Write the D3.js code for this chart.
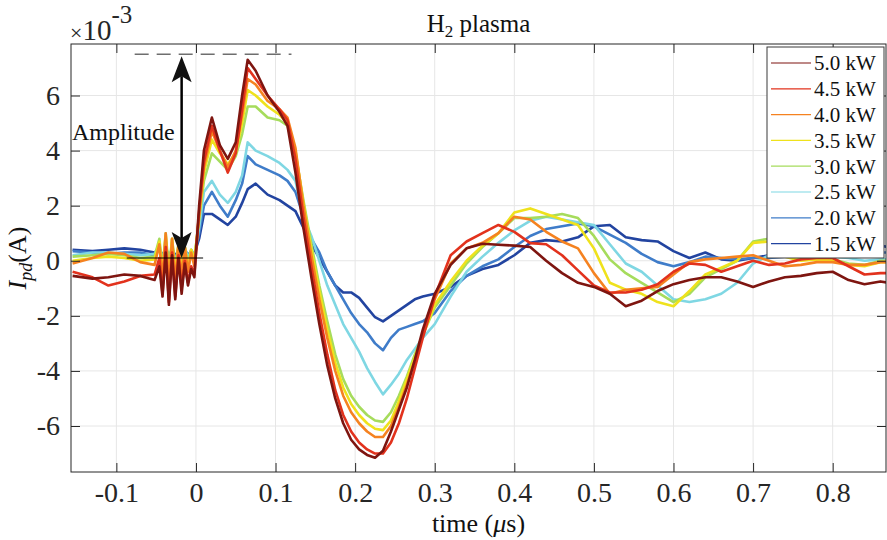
<!DOCTYPE html>
<html lang="en">
<head>
<meta charset="UTF-8">
<title>H2 plasma</title>
<script src="https://d3js.org/d3.v7.min.js"></script>
<style>
  body { margin: 0; background: #fff; }
  svg { display: block; }
  svg text { font-family: "Liberation Serif", "Times New Roman", serif; }
  .tick text { fill: #262626; }
</style>
</head>
<body>
<svg id="chart" width="887" height="540"></svg>
<script>
// time axis (µs), shared by all traces
const times = [
  -0.155, -0.13, -0.11, -0.09, -0.07, -0.052,
  -0.046, -0.042, -0.038, -0.034, -0.030, -0.026, -0.022, -0.018, -0.014, -0.010, -0.006, -0.002,
  0.004, 0.010, 0.020, 0.030, 0.040, 0.050, 0.058, 0.065, 0.075, 0.090, 0.105,
  0.115, 0.125, 0.135, 0.145, 0.155, 0.165, 0.175, 0.185, 0.195, 0.205, 0.215, 0.225, 0.235, 0.245, 0.255, 0.265, 0.275, 0.285, 0.300,
  0.32, 0.34, 0.36, 0.38, 0.40, 0.42, 0.44, 0.46, 0.48, 0.50, 0.52, 0.54, 0.56, 0.58, 0.60, 0.62, 0.64, 0.66, 0.68, 0.70, 0.72, 0.74, 0.76, 0.78, 0.80, 0.82, 0.84, 0.86, 0.87
];

// I_pd in units of 1e-3 A
const kw50 = [
  -0.55, -0.65, -0.6, -0.5, -0.55, -0.7,
  -0.2, -1.3, 0.3, -1.6, 0.2, -1.4, 0.1, -1.2, -0.1, -0.9, -0.3, -0.6,
  2.0, 4.0, 5.2, 4.2, 3.7, 4.3, 6.0, 7.3, 6.9, 6.0, 5.4,
  4.9, 3.2, 1.2, -0.6, -2.3, -3.8, -5.0, -5.9, -6.5, -6.85, -7.05, -7.15, -6.9, -6.2, -5.4, -4.6, -3.6, -2.5, -1.2,
  -0.15, 0.45, 0.62, 0.58, 0.55, 0.5, 0.0, -0.45, -0.8, -0.95, -1.2, -1.65, -1.45, -1.1, -0.85, -0.7, -0.6, -0.6, -0.75, -0.95, -0.75, -0.6, -0.55, -0.45, -0.4, -0.7, -0.85, -0.75, -0.8
];
const kw45 = [
  -0.4, -0.6, -0.9, -0.75, -0.55, -0.5,
  0.1, -1.2, 0.5, -1.5, 0.3, -1.3, 0.2, -1.0, 0.0, -0.8, -0.2, -0.5,
  1.8, 3.6, 4.9, 4.0, 3.2, 3.9, 5.5, 7.0, 6.6, 6.0, 5.5,
  5.1, 3.7, 1.6, -0.2, -1.9, -3.4, -4.7, -5.6, -6.2, -6.6, -6.85, -7.0, -7.0, -6.6, -5.9, -5.0, -3.9, -2.8, -1.3,
  0.2, 0.7, 1.0, 1.3, 1.05, 0.64, 0.6, 0.2, -0.35, -0.9, -1.15, -1.15, -1.05, -0.85, -0.4, -0.1, -0.15, -0.4, -0.2, 0.0, -0.15, -0.1, 0.05, 0.1, 0.1, -0.2, -0.5, -0.45, -0.45
];
const kw40 = [
  -0.1, 0.1, 0.3, 0.25, -0.05, -0.15,
  0.6, -0.7, 1.0, -0.9, 0.8, -0.8, 0.6, -0.6, 0.5, -0.4, 0.3, -0.2,
  1.7, 3.4, 4.7, 4.0, 3.4, 4.0, 5.3, 6.6, 6.4, 5.8, 5.5,
  5.2, 4.1, 2.0, 0.2, -1.4, -2.8, -4.0, -4.9, -5.5, -5.9, -6.2, -6.4, -6.4, -6.0, -5.3, -4.5, -3.6, -2.7, -1.4,
  -0.1, 0.45, 0.65, 1.0, 1.6, 1.5, 1.05, 0.7, 0.45, -0.45, -1.2, -1.05, -1.0, -0.95, -0.5, -0.05, 0.05, 0.1, 0.15, 0.2, 0.0, -0.2, -0.15, -0.05, -0.05, -0.15, -0.15, -0.05, -0.05
];
const kw35 = [
  0.0, 0.1, 0.15, 0.1, 0.0, 0.05,
  0.7, -0.5, 0.9, -0.6, 0.8, -0.5, 0.6, -0.4, 0.5, -0.3, 0.4, 0.0,
  1.6, 3.2, 4.4, 3.9, 3.5, 3.9, 5.0, 6.2, 6.0, 5.6, 5.3,
  5.0, 4.0, 2.1, 0.4, -1.1, -2.5, -3.7, -4.6, -5.2, -5.6, -5.9, -6.1, -6.15, -5.8, -5.1, -4.3, -3.5, -2.7, -1.6,
  -0.75, 0.0, 0.55, 1.0, 1.75, 1.9, 1.7, 1.5, 1.3, 0.45, -0.8, -1.05, -1.2, -1.5, -1.65, -1.1, -0.5, -0.25, 0.0, 0.65, 0.7, 0.15, 0.0, 0.05, 0.0, -0.15, -0.2, -0.05, -0.05
];
const kw30 = [
  0.15, 0.2, 0.25, 0.2, 0.1, 0.15,
  0.8, -0.3, 1.0, -0.4, 0.8, -0.3, 0.6, -0.2, 0.5, -0.1, 0.4, 0.1,
  1.5, 2.9, 3.9, 3.6, 3.3, 3.8, 4.6, 5.6, 5.6, 5.2, 5.1,
  4.9, 3.9, 2.2, 0.6, -0.9, -2.2, -3.4, -4.3, -4.9, -5.3, -5.6, -5.8, -5.85, -5.5, -4.9, -4.2, -3.4, -2.7, -1.7,
  -0.9, -0.1, 0.5, 1.0, 1.55, 1.55, 1.6, 1.7, 1.55, 0.9, 0.05, -0.45, -0.8, -1.15, -1.5, -1.2, -0.6, -0.3, 0.0, 0.7, 0.8, 0.3, 0.05, 0.1, 0.05, -0.1, -0.15, 0.0, 0.0
];
const kw25 = [
  0.2, 0.3, 0.3, 0.25, 0.2, 0.25,
  0.6, -0.1, 0.7, -0.2, 0.6, -0.1, 0.5, 0.0, 0.5, 0.1, 0.4, 0.2,
  1.2, 2.5, 2.9, 2.4, 2.1, 2.5, 3.1, 4.3, 4.0, 3.8, 3.55,
  3.3, 2.9, 1.6, 0.9, 0.0, -0.9, -1.6, -2.3, -2.8, -3.3, -3.9, -4.4, -4.85, -4.5, -4.1, -3.6, -3.2, -2.8, -2.3,
  -1.3, -0.4, 0.15, 0.65, 1.1, 1.45, 1.6, 1.5, 1.4, 1.3, 0.6, -0.1, -0.4, -0.9, -1.4, -1.5, -1.4, -1.2, -0.8, -0.1, 0.2, 0.3, 0.2, 0.1, 0.15, 0.1, 0.0, 0.05, 0.05
];
const kw20 = [
  0.35, 0.3, 0.25, 0.3, 0.3, 0.2,
  0.5, 0.0, 0.6, -0.1, 0.5, 0.0, 0.4, 0.1, 0.4, 0.1, 0.3, 0.2,
  1.0, 2.0, 2.5, 2.0, 1.6, 2.2, 2.8, 3.8, 3.5, 3.3, 3.1,
  2.9, 2.5, 1.6, 0.8, 0.3, -0.4, -0.9, -1.4, -1.9, -2.3, -2.6, -3.0, -3.25, -2.8, -2.5, -2.4, -2.3, -2.2, -1.9,
  -1.1, -0.55, -0.2, 0.05, 0.5, 0.9, 1.15, 1.25, 1.35, 1.25, 0.95, 0.65, 0.25, -0.05, -0.2, -0.05, 0.15, 0.1, 0.05, 0.1, 0.1, 0.15, 0.2, 0.15, 0.2, 0.15, 0.2, 0.3, 0.3
];
const kw15 = [
  0.4, 0.35, 0.4, 0.45, 0.4, 0.3,
  0.45, 0.15, 0.5, 0.1, 0.45, 0.15, 0.4, 0.2, 0.4, 0.2, 0.35, 0.25,
  0.8, 1.7, 1.7, 1.5, 1.3, 1.6, 2.1, 2.6, 2.8, 2.4, 2.2,
  2.0, 1.8, 1.2, 0.6, 0.1, -0.4, -0.9, -1.15, -1.15, -1.35, -1.7, -2.05, -2.2, -2.0, -1.8, -1.6, -1.4, -1.3, -1.2,
  -0.95, -0.55, -0.3, -0.15, 0.2, 0.65, 0.75, 0.7, 0.85, 1.25, 1.3, 0.85, 0.75, 0.7, 0.35, 0.1, 0.3, 0.05, 0.0, 0.1, 0.2, 0.25, 0.3, 0.35, 0.4, 0.45, 0.5, 0.55, 0.5
];

const labels = ["5.0 kW", "4.5 kW", "4.0 kW", "3.5 kW", "3.0 kW", "2.5 kW", "2.0 kW", "1.5 kW"];
const colors = ["#7e1510", "#e2321d", "#f58220", "#efe21c", "#a6dc5c", "#7fd7e3", "#3f7cc9", "#2244a0"];
const xTicks = [-0.1, 0, 0.1, 0.2, 0.3, 0.4, 0.5, 0.6, 0.7, 0.8];
const yTicks = [-6, -4, -2, 0, 2, 4, 6];

// amplitude annotation (data units)
const ampTop = 7.5, ampBase = 0.1, ampX = -0.018;

const series = [kw50, kw45, kw40, kw35, kw30, kw25, kw20, kw15].map((vals, i) => ({
  label: labels[i],
  color: colors[i],
  points: vals.map((v, j) => [times[j], v])
}));

const serif = '"Liberation Serif", "Times New Roman", serif';
const svg = d3.select("#chart");
const box = {left: 71, right: 886, top: 44, bottom: 472};

const x = d3.scaleLinear().domain([-0.157, 0.867]).range([box.left, box.right]);
const y = d3.scaleLinear().domain([-7.67, 7.87]).range([box.bottom, box.top]);

// grid
svg.append("g").selectAll("line").data(xTicks).join("line")
  .attr("x1", d => x(d)).attr("x2", d => x(d))
  .attr("y1", box.top).attr("y2", box.bottom)
  .attr("stroke", "#e6e6e6");
svg.append("g").selectAll("line").data(yTicks).join("line")
  .attr("x1", box.left).attr("x2", box.right)
  .attr("y1", d => y(d)).attr("y2", d => y(d))
  .attr("stroke", "#e6e6e6");

svg.append("clipPath").attr("id", "clip")
  .append("rect")
  .attr("x", box.left).attr("y", box.top)
  .attr("width", box.right - box.left).attr("height", box.bottom - box.top);

const line = d3.line().x(d => x(d[0])).y(d => y(d[1]));

svg.append("g").attr("clip-path", "url(#clip)")
  .selectAll("path")
  .data(series.slice().reverse())
  .join("path")
  .attr("d", d => line(d.points))
  .attr("fill", "none")
  .attr("stroke", d => d.color)
  .attr("stroke-width", 2.6)
  .attr("stroke-linejoin", "round");

// amplitude annotation
const ann = svg.append("g");
ann.append("line")
  .attr("x1", x(-0.077)).attr("x2", x(0.12))
  .attr("y1", y(ampTop)).attr("y2", y(ampTop))
  .attr("stroke", "#6e6e6e").attr("stroke-width", 1.5)
  .attr("stroke-dasharray", "14,8");
ann.append("line")
  .attr("x1", x(-0.087)).attr("x2", x(0.009))
  .attr("y1", y(ampBase)).attr("y2", y(ampBase))
  .attr("stroke", "#000").attr("stroke-width", 1);
const ax = x(ampX), aTop = y(ampTop) + 2, aBot = y(ampBase);
ann.append("line")
  .attr("x1", ax).attr("x2", ax)
  .attr("y1", aTop + 20).attr("y2", aBot - 20)
  .attr("stroke", "#000").attr("stroke-width", 2.5);
ann.append("path")
  .attr("d", `M${ax},${aTop} L${ax - 10},${aTop + 26} L${ax},${aTop + 20} L${ax + 10},${aTop + 26} Z`)
  .attr("fill", "#111");
ann.append("path")
  .attr("d", `M${ax},${aBot} L${ax - 10},${aBot - 26} L${ax},${aBot - 20} L${ax + 10},${aBot - 26} Z`)
  .attr("fill", "#111");
ann.append("text")
  .attr("x", 72).attr("y", 140)
  .attr("font-size", 24).attr("fill", "#111")
  .text("Amplitude");

// axes
const fmt = d => d3.format("")(d).replace("−", "-");
const styleTicks = g => g.selectAll("text")
  .attr("font-size", 28).style("font-family", serif);

svg.append("g")
  .attr("transform", `translate(0,${box.bottom})`)
  .call(d3.axisBottom(x).tickValues(xTicks).tickSizeInner(-9).tickSizeOuter(0).tickPadding(10).tickFormat(fmt))
  .call(g => g.select(".domain").remove())
  .call(styleTicks)
  .call(g => g.selectAll("line").attr("stroke", "#262626"));

svg.append("g")
  .attr("transform", `translate(0,${box.top})`)
  .call(d3.axisTop(x).tickValues(xTicks).tickSizeInner(-9).tickSizeOuter(0).tickFormat(""))
  .call(g => g.select(".domain").remove())
  .call(g => g.selectAll("line").attr("stroke", "#262626"));

svg.append("g")
  .attr("transform", `translate(${box.left},0)`)
  .call(d3.axisLeft(y).tickValues(yTicks).tickSizeInner(-9).tickSizeOuter(0).tickPadding(11).tickFormat(fmt))
  .call(g => g.select(".domain").remove())
  .call(styleTicks)
  .call(g => g.selectAll("line").attr("stroke", "#262626"));

svg.append("g")
  .attr("transform", `translate(${box.right},0)`)
  .call(d3.axisRight(y).tickValues(yTicks).tickSizeInner(-9).tickSizeOuter(0).tickFormat(""))
  .call(g => g.select(".domain").remove())
  .call(g => g.selectAll("line").attr("stroke", "#262626"));

svg.append("rect")
  .attr("x", box.left).attr("y", box.top)
  .attr("width", box.right - box.left).attr("height", box.bottom - box.top)
  .attr("fill", "none").attr("stroke", "#262626").attr("stroke-width", 1);

// exponent
const expo = svg.append("text").attr("x", 70).attr("y", 40).attr("fill", "#262626");
expo.append("tspan").attr("font-size", 22).text("×");
expo.append("tspan").attr("font-size", 29).text("10");
expo.append("tspan").attr("font-size", 25).attr("dy", -17).text("-3");

// title
const title = svg.append("text")
  .attr("x", (box.left + box.right) / 2).attr("y", 32)
  .attr("text-anchor", "middle").attr("font-size", 25).attr("fill", "#111");
title.append("tspan").text("H");
title.append("tspan").attr("font-size", 17).attr("dy", 5).text("2");
title.append("tspan").attr("dy", -5).text(" plasma");

// x label
const xl = svg.append("text")
  .attr("x", (box.left + box.right) / 2).attr("y", 532)
  .attr("text-anchor", "middle").attr("font-size", 26).attr("fill", "#111");
xl.append("tspan").text("time (");
xl.append("tspan").attr("font-style", "italic").text("μ");
xl.append("tspan").text("s)");

// y label
const yl = svg.append("text")
  .attr("transform", `translate(26,${(box.top + box.bottom) / 2}) rotate(-90)`)
  .attr("text-anchor", "middle").attr("font-size", 26).attr("fill", "#111");
yl.append("tspan").attr("font-style", "italic").text("I");
yl.append("tspan").attr("font-style", "italic").attr("font-size", 18).attr("dy", 6).text("pd");
yl.append("tspan").attr("dy", -6).text("(A)");

// legend
const lg = svg.append("g");
lg.append("rect")
  .attr("x", 767).attr("y", 47).attr("width", 117).attr("height", 211)
  .attr("fill", "#fff").attr("stroke", "#3a3a3a").attr("stroke-width", 1);
const item = lg.selectAll("g.item").data(series).join("g")
  .attr("class", "item")
  .attr("transform", (d, i) => `translate(0,${63 + i * 25.8})`);
item.append("line")
  .attr("x1", 771).attr("x2", 811)
  .attr("stroke", d => d.color).attr("stroke-width", 1.2);
item.append("text")
  .attr("x", 814).attr("dy", "0.35em")
  .attr("font-size", 21).attr("fill", "#111")
  .text(d => d.label);
</script>
</body>
</html>
